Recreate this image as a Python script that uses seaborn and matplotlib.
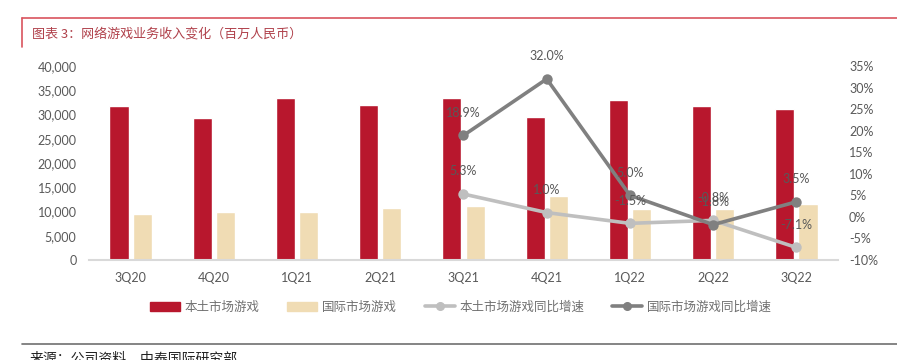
import seaborn as sns
import matplotlib.pyplot as plt
import matplotlib.ticker as mticker
import pandas as pd
from matplotlib.lines import Line2D
from matplotlib.patches import Patch

quarters = ["3Q20", "4Q20", "1Q21", "2Q21", "3Q21", "4Q21", "1Q22", "2Q22", "3Q22"]
domestic = [31700, 29200, 33400, 32000, 33400, 29500, 32900, 31700, 31100]
overseas = [9500, 9900, 10000, 10800, 11200, 13100, 10600, 10600, 11600]
growth_quarters = ["3Q21", "4Q21", "1Q22", "2Q22", "3Q22"]
domestic_yoy = [5.3, 1.0, -1.5, -0.8, -7.1]
overseas_yoy = [18.9, 32.0, 5.0, -1.8, 3.5]

RED = "#B8172D"
BEIGE = "#F0DCB4"
LGREY = "#BFBFBF"
DGREY = "#808080"
TXT = "#595959"

sns.set_theme(style="white")
plt.rcParams["font.family"] = ["Lato", "Noto Sans CJK SC", "DejaVu Sans"]

bars = pd.DataFrame({
    "quarter": quarters * 2,
    "value": domestic + overseas,
    "series": ["本土市场游戏"] * len(quarters) + ["国际市场游戏"] * len(quarters),
})

fig = plt.figure(figsize=(8.97, 3.6), dpi=100)
ax = fig.add_axes([89 / 897, 100 / 360, 749 / 897, 194 / 360])

sns.barplot(data=bars, x="quarter", y="value", hue="series", order=quarters,
            palette=[RED, BEIGE], width=0.56, gap=0.18, ax=ax, legend=False,
            saturation=1)
ax.set_xlim(-0.5, 8.5)
ax.set_ylim(0, 40000)
ax.set_yticks(range(0, 40001, 5000))
ax.yaxis.set_major_formatter(mticker.FuncFormatter(lambda v, p: f"{int(v):,}"))
ax.set_xlabel("")
ax.set_ylabel("")
for s in ["top", "right", "left"]:
    ax.spines[s].set_visible(False)
ax.spines["bottom"].set_color("#D9D9D9")
ax.spines["bottom"].set_linewidth(1.5)
ax.tick_params(axis="both", colors=TXT, labelsize=9, length=0)
ax.tick_params(axis="x", pad=9)
ax.tick_params(axis="y", pad=9)

ax2 = ax.twinx()
pos = [quarters.index(q) for q in growth_quarters]
sns.lineplot(x=pos, y=domestic_yoy, color=LGREY, lw=2.6, marker="o", markersize=7.5,
             markeredgewidth=0, ax=ax2)
sns.lineplot(x=pos, y=overseas_yoy, color=DGREY, lw=2.6, marker="o", markersize=7.5,
             markeredgewidth=0, ax=ax2)
ax2.set_ylim(-10, 35)
ax2.set_yticks(range(-10, 36, 5))
ax2.yaxis.set_major_formatter(mticker.FuncFormatter(lambda v, p: f"{int(v)}%"))
for s in ["top", "right", "left", "bottom"]:
    ax2.spines[s].set_visible(False)
ax2.tick_params(axis="y", colors=TXT, labelsize=9, length=0, pad=8)
ax2.set_xlim(-0.5, 8.5)

for x, v in zip(pos, domestic_yoy):
    ax2.annotate(f"{v:.1f}%", (x, v), xytext=(0, 12), textcoords="offset points",
                 ha="center", va="bottom", fontsize=9, color=TXT)
for x, v in zip(pos, overseas_yoy):
    ax2.annotate(f"{v:.1f}%", (x, v), xytext=(0, 12), textcoords="offset points",
                 ha="center", va="bottom", fontsize=9, color=TXT)

handles = [
    Patch(color=RED, label="本土市场游戏"),
    Patch(color=BEIGE, label="国际市场游戏"),
    Line2D([], [], color=LGREY, lw=2.6, marker="o", markersize=5.5, label="本土市场游戏同比增速"),
    Line2D([], [], color=DGREY, lw=2.6, marker="o", markersize=5.5, label="国际市场游戏同比增速"),
]
fig.legend(handles=handles, loc="center", bbox_to_anchor=(0.514, 1 - 307 / 360), ncol=4,
           frameon=False, handlelength=2.4, handleheight=0.7, columnspacing=2.2,
           handletextpad=0.4, prop={"family": ["Noto Sans CJK SC"], "size": 9},
           labelcolor="#6F6F6F")

# header and footer rules
fig.add_artist(Line2D([22 / 897, 1], [1 - 18 / 360] * 2, color="#D9545E", lw=1.2))
fig.add_artist(Line2D([22 / 897] * 2, [1 - 18 / 360, 1 - 47 / 360], color="#D9545E", lw=1.2))
fig.text(32 / 897, 1 - 34 / 360, "图表 3：网络游戏业务收入变化（百万人民币）", color="#B0414B",
         fontsize=9.4, va="center", family=["Noto Sans CJK SC"])
fig.add_artist(Line2D([22 / 897, 1], [1 - 344 / 360] * 2, color="#6F6F6F", lw=1.2))
fig.text(30 / 897, 1 - 358 / 360, "来源：公司资料，中泰国际研究部", color="#222222",
         fontsize=10, va="center", family=["Noto Sans CJK SC"])

fig.savefig("out.png", dpi=100)
